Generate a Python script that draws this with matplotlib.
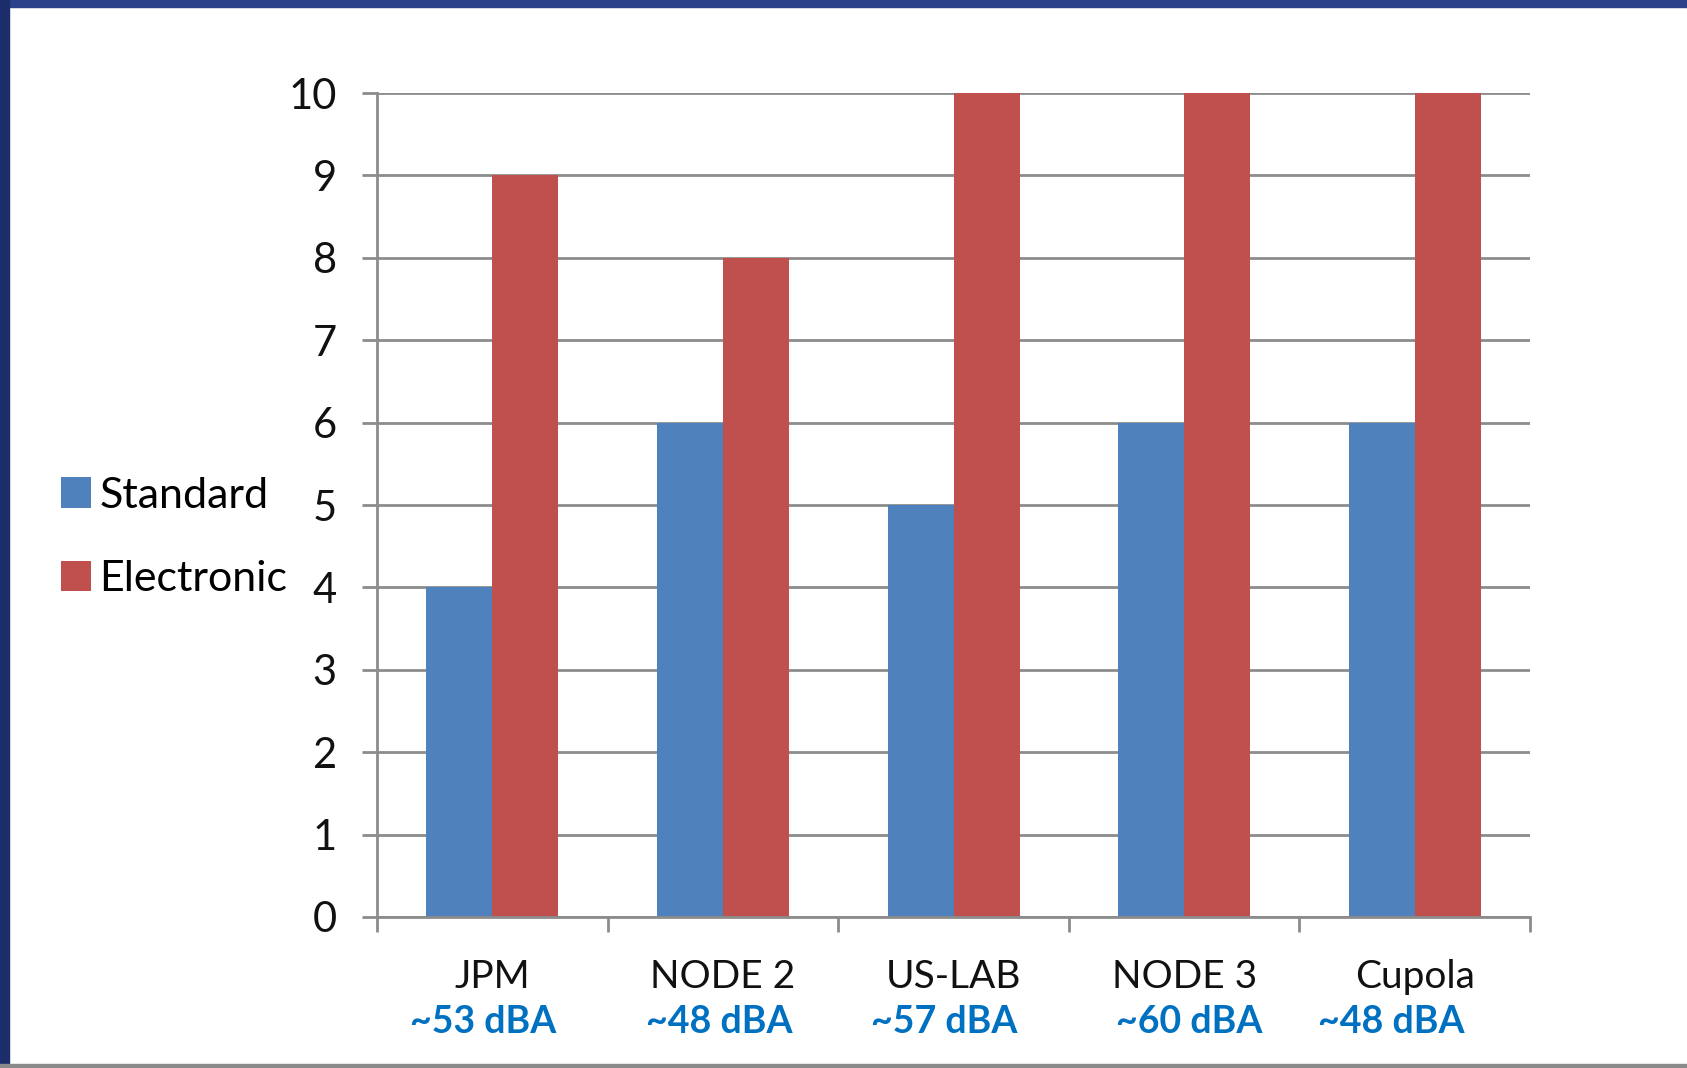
import numpy as np
import matplotlib.pyplot as plt
from matplotlib.patches import Rectangle

# Chart data
modules = ['JPM', 'NODE 2', 'US-LAB', 'NODE 3', 'Cupola']
noise_levels = ['~53 dBA', '~48 dBA', '~57 dBA', '~60 dBA', '~48 dBA']
standard = [4, 6, 5, 6, 6]
electronic = [9, 8, 10, 10, 10]

plt.rcParams['font.family'] = ['Lato', 'DejaVu Sans']

fig = plt.figure(figsize=(16.87, 10.68), dpi=100)

# slide frame: dark blue band on top and left, grey line at bottom
fig.patches.append(Rectangle((0, 0.993), 1, 0.007, transform=fig.transFigure,
                             color='#2c4189', zorder=0))
fig.patches.append(Rectangle((0, 0), 0.0055, 1, transform=fig.transFigure,
                             color='#1c2d6b', zorder=0))
fig.patches.append(Rectangle((0, 0), 1, 0.004, transform=fig.transFigure,
                             color='#8a8a8a', zorder=0))

ax = fig.add_axes([0.2235, 0.1414, 0.6835, 0.7715])

x = np.arange(len(modules))
w = 0.286
ax.bar(x - w / 2, standard, w, color='#4f81bd', label='Standard', zorder=2)
ax.bar(x + w / 2, electronic, w, color='#c0504d', label='Electronic', zorder=2)

ax.set_xlim(-0.5, len(modules) - 0.5)
ax.set_ylim(0, 10)
ax.set_yticks(range(0, 11))
ax.yaxis.grid(True, color='#8c8c8c', linewidth=2, zorder=1)
ax.set_axisbelow(True)

for s in ['top', 'right']:
    ax.spines[s].set_visible(False)
for s in ['left', 'bottom']:
    ax.spines[s].set_color('#8c8c8c')
    ax.spines[s].set_linewidth(2)

ax.tick_params(axis='y', length=11, width=2, color='#8c8c8c', pad=18,
               labelsize=30, labelcolor='#111111')
ax.set_xticks(x)
ax.set_xticklabels(modules)
ax.set_xticks(np.arange(-0.5, len(modules)), minor=True)
ax.tick_params(axis='x', which='major', length=0, pad=30, labelsize=28,
               labelcolor='#111111')
ax.tick_params(axis='x', which='minor', length=11, width=2, color='#8c8c8c')

# the dBA notes sit a little off-centre in the original slide
nudge = [-0.04, -0.015, -0.04, 0.02, -0.1]
for i, lvl in enumerate(noise_levels):
    ax.text(i + nudge[i], -0.127, lvl, transform=ax.get_xaxis_transform(),
            ha='center', va='center', fontsize=27, fontweight='bold',
            color='#0070c0')

fig.legend(loc='center left', bbox_to_anchor=(0.013, 0.497), frameon=False,
           fontsize=31, handlelength=0.7, handleheight=0.7,
           handletextpad=0.2, labelspacing=1.05)

fig.savefig('out.png', dpi=100)
